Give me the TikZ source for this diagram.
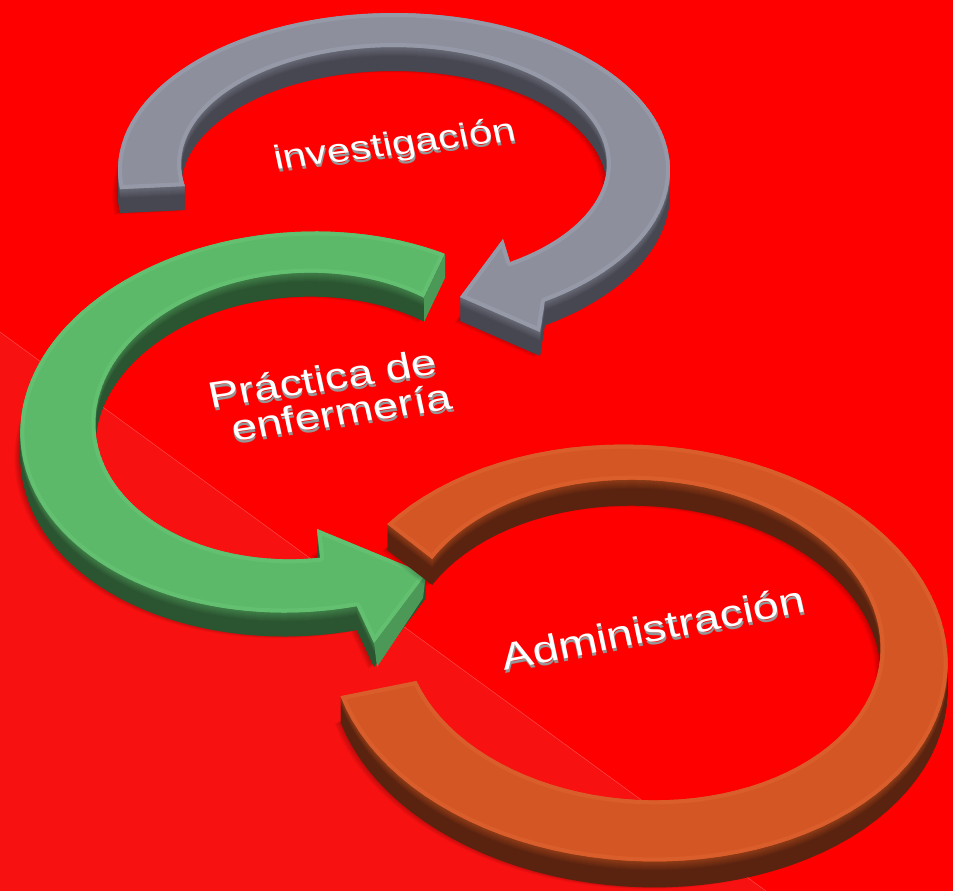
\documentclass[tikz,border=0pt]{standalone}
\usepackage{fontspec}
\newfontfamily\arialf{Liberation Sans}
\definecolor{bgtop}{RGB}{255,0,0}
\definecolor{bglow}{RGB}{247,17,17}
\definecolor{bgline}{RGB}{255,72,72}
\definecolor{grtop}{RGB}{141,143,157}
\definecolor{grrim}{RGB}{150,153,167}
\definecolor{grmid}{RGB}{104,106,119}
\definecolor{grdark}{RGB}{70,71,81}
\definecolor{gntop}{RGB}{92,185,106}
\definecolor{gnrim}{RGB}{99,192,113}
\definecolor{gnmid}{RGB}{64,128,73}
\definecolor{gndark}{RGB}{43,84,48}
\definecolor{gnside}{RGB}{75,152,87}
\definecolor{ortop}{RGB}{212,86,36}
\definecolor{orrim}{RGB}{218,94,44}
\definecolor{ormid}{RGB}{145,60,23}
\definecolor{ordark}{RGB}{90,35,15}
\definecolor{txside}{RGB}{150,150,150}

% elliptic arc: cx, cy, A, B, phi, t1, t2
\newcommand{\arcplot}[7]{plot[domain=0:1,samples=90,variable=\vv]
 ({#1+#3*cos((#6)+((#7)-(#6))*\vv)*cos(#5)-#4*sin((#6)+((#7)-(#6))*\vv)*sin(#5)},
  {#2+#3*cos((#6)+((#7)-(#6))*\vv)*sin(#5)+#4*sin((#6)+((#7)-(#6))*\vv)*cos(#5)})}
\newcommand{\arcplotL}[7]{-- plot[domain=0:1,samples=90,variable=\vv]
 ({#1+#3*cos((#6)+((#7)-(#6))*\vv)*cos(#5)-#4*sin((#6)+((#7)-(#6))*\vv)*sin(#5)},
  {#2+#3*cos((#6)+((#7)-(#6))*\vv)*sin(#5)+#4*sin((#6)+((#7)-(#6))*\vv)*cos(#5)})}

\def\gpath{\arcplot{394}{170}{276}{157}{0}{173}{417} -- (540,332) -- (460,297) -- (503,239) \arcplotL{394}{164}{213}{117}{0}{417}{169} -- cycle}
\def\npath{\arcplot{300}{422}{280}{190}{-4}{-279}{-56} \arcplotL{300}{416}{205}{143}{-4}{-50}{-273} -- (317,529) -- (426,574) -- (374,643) -- cycle}
\def\opath{\arcplot{639}{653}{309}{208}{3.5}{213}{523} \arcplotL{643}{640}{238}{160}{3.5}{520}{205} -- cycle}

\newcommand{\shadowof}[2]{\foreach \ss in {1,...,6}{\fill[black,opacity=0.045,shift={(-\ss,#2+0.6*\ss)}] #1;}}
\newcommand{\extrude}[4]{\foreach \k in {#2,...,1}{%
  \pgfmathtruncatemacro\pp{min(100,\k*10)}%
  \fill[#3!\pp!#4, shift={(0,\k)}] #1;}}
\newcommand{\topface}[3]{\begin{scope}\clip #1; \fill[#2] #1; \draw[#3, line width=8pt, line join=round] #1;\end{scope}}

\newcommand{\ptext}[6]{%
  \pgfmathsetmacro\tca{cos(#4)}\pgfmathsetmacro\tcb{sin(#4)}%
  \pgfmathsetmacro\tcc{-0.8*sin(12)}\pgfmathsetmacro\tcd{0.8*cos(12)}%
  \node[txt, text=txside, cm={\tca,\tcb,\tcc,\tcd,(0,0)}, font=\arialf\fontsize{#5}{#5}\selectfont] (#1-s) at (#2+0.8,#3+3) {#6};
  \node[txt, text=white, cm={\tca,\tcb,\tcc,\tcd,(0,0)}, font=\arialf\fontsize{#5}{#5}\selectfont] (#1) at (#2,#3) {#6};}

\begin{document}
\begin{tikzpicture}[x=1pt,y=-1pt, txt/.style={anchor=base, inner sep=0pt}]
\useasboundingbox (0,0) rectangle (953,891);
\clip (0,0) rectangle (953,891);
% background
\fill[bgtop] (0,0) rectangle (953,891);
\fill[bglow] (0,332) -- (766,891) -- (0,891) -- cycle;
\draw[bgline, line width=0.5pt] (0,332) -- (766,891);

% gray ring (investigacion)
\shadowof{\gpath}{22}
\extrude{\gpath}{24}{grdark}{grmid}
\topface{\gpath}{grtop}{grrim}
\ptext{inv}{397}{155}{7}{42}{investigación}

% green ring (practica)
\shadowof{\npath}{22}
\extrude{\npath}{24}{gndark}{gnmid}
\fill[gnside] (426,574) -- (374,643) -- (377,667) -- (423,598) -- cycle;
\fill[gnside] (445,254) -- (424,298) -- (424,322) -- (445,278) -- cycle;
\topface{\npath}{gntop}{gnrim}
\ptext{pra1}{325}{391}{8.5}{46}{Práctica de}
\ptext{pra2}{344}{425}{8.5}{46}{enfermería}

% orange ring (administracion)
\shadowof{\opath}{24}
\extrude{\opath}{26}{ordark}{ormid}
\topface{\opath}{ortop}{orrim}
\ptext{adm}{656}{641}{11}{47}{Administración}
\end{tikzpicture}
\end{document}
